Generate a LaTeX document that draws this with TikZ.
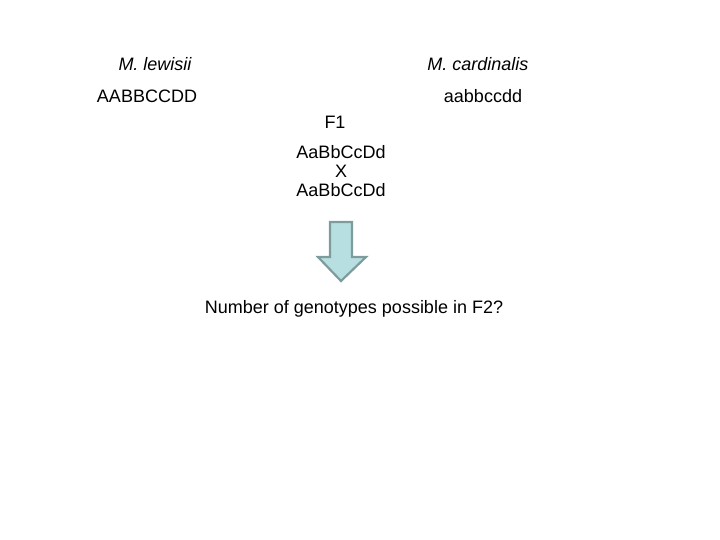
\documentclass[tikz,border=0pt]{standalone}
\usepackage{fontspec}
\setmainfont{Liberation Sans}
\definecolor{arrowfill}{HTML}{B7DEE1}
\definecolor{arrowline}{HTML}{7F9C9C}
\begin{document}
\begin{tikzpicture}[x=1pt,y=-1pt,
  lbl/.style={font=\fontsize{18}{21}\selectfont, inner sep=0pt, anchor=center}]
\useasboundingbox (0,0) rectangle (720,540);
\node[lbl] (lew) at (155,64) {\itshape M. lewisii};
\node[lbl] (car) at (478,64) {\itshape M. cardinalis};
\node[lbl] (p1) at (147,96) {AABBCCDD};
\node[lbl] (p2) at (483,96) {aabbccdd};
\node[lbl] (f1) at (335,122) {F1};
\node[lbl] (g1) at (341,152) {AaBbCcDd};
\node[lbl] (x) at (341,171) {X};
\node[lbl] (g2) at (341,190) {AaBbCcDd};
\node[lbl] (q) at (354,309) {Number of genotypes possible in F2?};
\draw[fill=arrowfill, draw=arrowline, line width=2.2pt, line join=miter]
  (330,222) -- (352,222) -- (352,257) -- (366,257) -- (341,281) -- (318,257) -- (330,257) -- cycle;
\end{tikzpicture}
\end{document}
